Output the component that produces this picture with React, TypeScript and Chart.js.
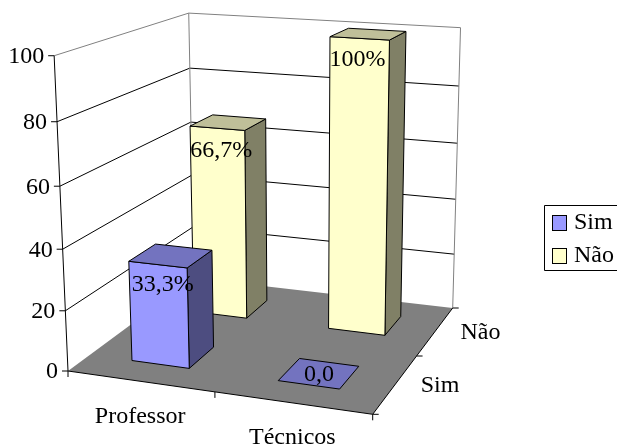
import React, { useEffect, useRef } from "react";
import { Chart, registerables } from "chart.js";

Chart.register(...registerables);

const categories = ["Professor", "Técnicos"];
const seriesNames = ["Sim", "Não"];
const simValues = [33.3, 0];
const naoValues = [66.7, 100];
const simLabels = ["33,3%", "0,0"];
const naoLabels = ["66,7%", "100%"];
const yTicks = { min: 0, max: 100, stepSize: 20 };

const FONT = '"Liberation Serif", "Times New Roman", serif';
const FONT_SIZE = 24;
const BAR_FRACTION = 0.4;

type Pt = [number, number];

// Screen corners of the plot box: floor (front-left, front-right, back-right,
// back-left) and the top of the three visible wall edges.
const floorQuad: Pt[] = [[68, 371], [372.7, 414.3], [452.7, 308], [194, 278]];
const wallTops: { x: number; z: number; p: Pt }[] = [
  { x: 0, z: 0, p: [55.7, 57.3] },
  { x: 0, z: 1, p: [187, 12.7] },
  { x: 1, z: 1, p: [461, 26.7] },
];

function solve3(m: number[][], r: number[]): number[] {
  const a = m.map((row, i) => [...row, r[i]]);
  for (let i = 0; i < 3; i++) {
    let best = i;
    for (let k = i + 1; k < 3; k++) if (Math.abs(a[k][i]) > Math.abs(a[best][i])) best = k;
    [a[i], a[best]] = [a[best], a[i]];
    for (let k = 0; k < 3; k++) {
      if (k === i) continue;
      const f = a[k][i] / a[i][i];
      for (let j = i; j < 4; j++) a[k][j] -= f * a[i][j];
    }
  }
  return [a[0][3] / a[0][0], a[1][3] / a[1][1], a[2][3] / a[2][2]];
}

// Builds a projective camera: (x, level, z) in unit coordinates to canvas pixels.
function buildCamera() {
  const [[x0, y0], [x1, y1], [x2, y2], [x3, y3]] = floorQuad;
  const dx1 = x1 - x2, dx2 = x3 - x2, sx = x0 - x1 + x2 - x3;
  const dy1 = y1 - y2, dy2 = y3 - y2, sy = y0 - y1 + y2 - y3;
  const den = dx1 * dy2 - dx2 * dy1;
  const g = (sx * dy2 - dx2 * sy) / den;
  const h = (dx1 * sy - sx * dy1) / den;
  const hx = [x1 - x0 + g * x1, y1 - y0 + g * y1, g];
  const hz = [x3 - x0 + h * x3, y3 - y0 + h * y3, h];
  const h0 = [x0, y0, 1];
  const base = (x: number, z: number) => [0, 1, 2].map((i) => hx[i] * x + hz[i] * z + h0[i]);

  // Least-squares fit of the vertical direction to the wall-top corners.
  const rows: number[][] = [];
  const rhs: number[] = [];
  for (const t of wallTops) {
    const b = base(t.x, t.z);
    rows.push([1, 0, -t.p[0]]);
    rhs.push(t.p[0] * b[2] - b[0]);
    rows.push([0, 1, -t.p[1]]);
    rhs.push(t.p[1] * b[2] - b[1]);
  }
  const ata = [0, 1, 2].map((i) => [0, 1, 2].map((j) => rows.reduce((s, r) => s + r[i] * r[j], 0)));
  const atb = [0, 1, 2].map((i) => rows.reduce((s, r, k) => s + r[i] * rhs[k], 0));
  const v = solve3(ata, atb);

  return (x: number, level: number, z: number): Pt => {
    const b = base(x, z);
    const w = b[2] + v[2] * level;
    return [(b[0] + v[0] * level) / w, (b[1] + v[1] * level) / w];
  };
}

function shade(rgb: number[], k: number) {
  return `rgb(${rgb.map((c) => Math.round(c * k)).join(",")})`;
}

function poly(ctx: CanvasRenderingContext2D, pts: Pt[], fill?: string, stroke?: string) {
  ctx.beginPath();
  pts.forEach((p, i) => (i ? ctx.lineTo(p[0], p[1]) : ctx.moveTo(p[0], p[1])));
  if (fill) {
    ctx.closePath();
    ctx.fillStyle = fill;
    ctx.fill();
  }
  if (stroke) {
    ctx.strokeStyle = stroke;
    ctx.lineWidth = 1;
    ctx.stroke();
  }
}

const seriesRgb = [[153, 153, 255], [255, 255, 204]];
const seriesLabels = [simLabels, naoLabels];
// Small per-label shifts (series, then category) for text on a front face.
const labelNudge = [[[5, 0], [0, 0]], [[4, 2], [-2, 1]]];

const scene3d = {
  id: "scene3d",
  beforeDatasetsDraw(chart: any) {
    const ctx: CanvasRenderingContext2D = chart.ctx;
    const { x: sx, y: sy, depth: sz } = chart.scales;
    const project = buildCamera();
    const fx = (v: number) => (v - sx.left) / sx.width;
    const fz = (v: number) => (v - sz.left) / sz.width;
    const level = (val: number) => (sy.bottom - sy.getPixelForValue(val)) / sy.height;
    const halfX = (BAR_FRACTION * (sx.getPixelForValue(1) - sx.getPixelForValue(0))) / sx.width / 2;
    const halfZ = (BAR_FRACTION * (sz.getPixelForValue(1) - sz.getPixelForValue(0))) / sz.width / 2;

    ctx.save();
    ctx.font = `${FONT_SIZE}px ${FONT}`;
    ctx.textBaseline = "middle";

    // floor
    poly(ctx, [project(0, 0, 0), project(1, 0, 0), project(1, 0, 1), project(0, 0, 1)], "#808080");

    // walls and gridlines
    const tickVals: number[] = sy.ticks.map((t: any) => t.value);
    tickVals.forEach((val) => {
      const l = level(val);
      const color = val === sy.max ? "#808080" : "#000000";
      if (val !== 0) {
        poly(ctx, [project(0, l, 0), project(0, l, 1), project(1, l, 1)], undefined, color);
      }
    });
    poly(ctx, [project(0, 0, 1), project(0, 1, 1)], undefined, "#808080");
    poly(ctx, [project(1, 0, 1), project(1, 1, 1)], undefined, "#808080");

    // bars, back row first
    chart.data.datasets
      .map((ds: any, i: number) => ({ ds, i }))
      .reverse()
      .forEach(({ ds, i }: any) => {
        const zc = fz(sz.getPixelForValue(i));
        ds.data.forEach((val: number, c: number) => {
          const xc = fx(sx.getPixelForValue(c));
          const top = level(val);
          const x0 = xc - halfX, x1 = xc + halfX, z0 = zc - halfZ, z1 = zc + halfZ;
          const rgb = seriesRgb[i];
          if (val > 0) {
            poly(ctx, [project(x1, 0, z0), project(x1, 0, z1), project(x1, top, z1), project(x1, top, z0)], shade(rgb, 0.5), "#000");
            poly(ctx, [project(x0, 0, z0), project(x1, 0, z0), project(x1, top, z0), project(x0, top, z0)], shade(rgb, 1), "#000");
          }
          poly(ctx, [project(x0, top, z0), project(x1, top, z0), project(x1, top, z1), project(x0, top, z1)], shade(rgb, 0.75), "#000");
        });
      });

    // value labels
    ctx.fillStyle = "#000";
    ctx.textAlign = "center";
    chart.data.datasets.forEach((ds: any, i: number) => {
      const zc = fz(sz.getPixelForValue(i));
      ds.data.forEach((val: number, c: number) => {
        const xc = fx(sx.getPixelForValue(c));
        const text = seriesLabels[i][c];
        if (val > 0) {
          const p = project(xc, level(val), zc - halfZ);
          const n = labelNudge[i][c];
          ctx.fillText(text, p[0] + n[0], p[1] + 20 + n[1]);
        } else {
          const p = project(xc, 0, zc);
          ctx.fillText(text, p[0], p[1] + 1);
        }
      });
    });

    // value axis
    ctx.textAlign = "right";
    poly(ctx, [project(0, 0, 0), project(0, 1, 0)], undefined, "#000");
    tickVals.forEach((val) => {
      const p = project(0, level(val), 0);
      poly(ctx, [[p[0] - 6, p[1]], p], undefined, "#000");
      ctx.fillStyle = "#000";
      ctx.fillText(String(val), p[0] - 10, p[1] + 1);
    });

    // category axis along the front edge
    const front0 = project(0, 0, 0);
    const front1 = project(1, 0, 0);
    poly(ctx, [front0, front1], undefined, "#000");
    [0, 0.5, 1].forEach((x) => {
      const p = project(x, 0, 0);
      poly(ctx, [p, [p[0], p[1] + 6]], undefined, "#000");
    });
    ctx.textAlign = "center";
    categories.forEach((name, c) => {
      const p = project(fx(sx.getPixelForValue(c)), 0, 0);
      ctx.fillStyle = "#000";
      ctx.fillText(name, p[0], p[1] + 35);
    });

    // series axis along the right edge
    poly(ctx, [project(1, 0, 0), project(1, 0, 1)], undefined, "#000");
    [0, 0.5, 1].forEach((z) => {
      const p = project(1, 0, z);
      poly(ctx, [p, [p[0] + 6, p[1]]], undefined, "#000");
    });
    ctx.textAlign = "left";
    seriesNames.forEach((name, i) => {
      const p = project(1, 0, fz(sz.getPixelForValue(i)));
      ctx.fillStyle = "#000";
      ctx.fillText(name, p[0] + 25, p[1] + 2);
    });

    // legend
    ctx.strokeStyle = "#000";
    ctx.lineWidth = 1;
    ctx.beginPath();
    ctx.moveTo(617.5, 205.5);
    ctx.lineTo(544.5, 205.5);
    ctx.lineTo(544.5, 270.5);
    ctx.lineTo(617.5, 270.5);
    ctx.stroke();
    chart.data.datasets.forEach((ds: any, i: number) => {
      const y = 215.5 + i * 33;
      ctx.fillStyle = ds.backgroundColor;
      ctx.fillRect(552.5, y, 14, 15);
      ctx.strokeRect(552.5, y, 14, 15);
      ctx.fillStyle = "#000";
      ctx.fillText(ds.label, 574, y + 7);
    });
    ctx.restore();

    return false;
  },
};

export default function App() {
  const ref = useRef<HTMLCanvasElement>(null);
  useEffect(() => {
    const chart = new Chart(ref.current!, {
      type: "bar",
      data: {
        labels: categories,
        datasets: [
          { label: seriesNames[0], data: simValues, backgroundColor: "#9999FF" },
          { label: seriesNames[1], data: naoValues, backgroundColor: "#FFFFCC" },
        ],
      },
      options: {
        animation: false,
        responsive: false,
        plugins: { legend: { display: false }, tooltip: { enabled: false } },
        scales: {
          x: { type: "category", display: false, offset: true },
          depth: { type: "category", axis: "x", position: "bottom", labels: seriesNames, display: false, offset: true },
          y: { type: "linear", display: false, min: yTicks.min, max: yTicks.max, ticks: { stepSize: yTicks.stepSize } },
        },
      } as any,
      plugins: [scene3d as any],
    });
    return () => chart.destroy();
  }, []);
  return <canvas ref={ref} width={617} height={448} style={{ position: "absolute", left: 0, top: 0 }} />;
}
